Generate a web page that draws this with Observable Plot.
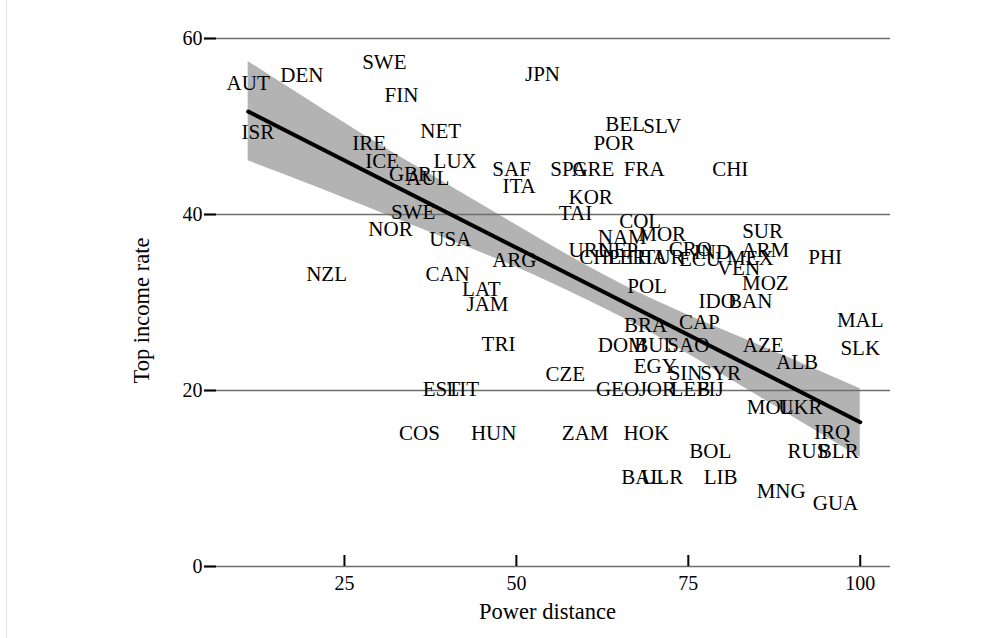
<!DOCTYPE html>
<html><head><meta charset="utf-8">
<script src="https://cdn.jsdelivr.net/npm/d3@7"></script>
<script src="https://cdn.jsdelivr.net/npm/@observablehq/plot@0.6"></script>
<style>
body{margin:0;background:#fff}
#chart{position:relative}
#chart::before{content:"";position:absolute;left:6px;top:0;width:1px;height:638px;background:#e2e2e2}
</style>
</head><body><div id="chart"></div>
<script>
const codes = ["AUT","DEN","SWE","FIN","ISR","NET","IRE","ICE","GBR","AUL","LUX","SWE","NOR","USA","NZL","CAN","LAT","JAM","ARG","TRI","EST","LIT","COS","HUN","SAF","ITA","JPN","SPA","GRE","FRA","BEL","SLV","POR","KOR","TAI","CHI","COL","NAM","MOR","URU","NEP","CHL","PER","THA","TUR","CRO","IND","ECU","MEX","ARM","SUR","VEN","MOZ","PHI","POL","IDO","BAN","CAP","BRA","DOM","BUL","SAO","AZE","MAL","SLK","ALB","EGY","SIN","SYR","CZE","GEO","JOR","LEB","FIJ","MOL","UKR","IRQ","RUS","BLR","ZAM","HOK","BOL","BAL","ULR","LIB","MNG","GUA"];
const powerDistance = [11,18.8,30.8,33.3,12.4,39,28.6,30.5,34.6,37.1,41.1,35,31.7,40.4,22.4,40,44.9,45.8,49.7,47.4,39.1,42.2,35.9,46.7,49.3,50.4,53.8,57.6,61.2,68.6,65.8,71.2,64.2,60.8,58.6,81.1,68,65.4,71.2,60.8,64.8,62.2,66.1,68.8,71.4,75.3,78.5,76.7,84,86.2,85.8,82.3,86.2,94.9,69,79.2,84,76.6,68.8,65.4,70.2,75,85.9,100,100,90.8,70.2,74.6,79.7,57.1,64.7,70.5,75.3,78.2,86.9,91.3,95.9,92.4,96.8,60,68.9,78.2,68.3,71.2,79.7,88.5,96.4];
const topRate = [54.9,55.8,57.3,53.6,49.4,49.5,48.1,46.1,44.6,44.1,46,40.2,38.3,37.2,33.2,33.2,31.5,29.8,34.8,25.3,20.1,20.1,15.1,15.1,45.1,43.2,55.9,45.1,45.1,45.1,50.2,50,48.1,42,40.1,45.1,39.2,37.4,37.7,35.9,35.9,35.1,35.1,35.1,35.1,36.1,35.7,34.9,35,35.9,38.1,33.9,32.2,35.1,31.8,30.1,30.1,27.7,27.4,25.1,25.1,25.1,25.1,28,24.8,23.2,22.7,22,22,21.8,20.1,20.1,20.1,20.1,18.1,18.1,15.2,13.1,13.1,15.1,15.1,13.1,10.1,10.1,10.1,8.6,7.2];

// fitted line and its confidence band
const fitX = [11, 100];
const fitY = [51.7, 16.4];
const bandX = [11, 20, 30, 40, 50, 60, 70, 80, 90, 100];
const bandLow = [46.1, 43.4, 40.3, 37.2, 34.0, 30.4, 26.4, 21.8, 17.1, 12.4];
const bandHigh = [57.4, 52.9, 48.0, 43.4, 38.8, 34.3, 30.3, 26.9, 23.6, 20.2];

const xTicks = [25, 50, 75, 100];
const yTicks = [0, 20, 40, 60];
const xTitle = "Power distance";
const yTitle = "Top income rate";

const data = codes.map((c, i) => ({code: c, pd: powerDistance[i], rate: topRate[i]}));
const fit = fitX.map((x, i) => ({x, y: fitY[i]}));
const band = bandX.map((x, i) => ({x, lo: bandLow[i], hi: bandHigh[i]}));
const font = "'Liberation Serif', 'DejaVu Serif', serif";

const chart = Plot.plot({
  width: 1006, height: 638,
  marginLeft: 204, marginRight: 116, marginTop: 38, marginBottom: 72,
  style: {fontFamily: font, fontSize: "20px", background: "white", color: "black"},
  x: {domain: [4.65, 104.4], label: null},
  y: {domain: [0, 60], label: null},
  marks: [
    Plot.areaY(band, {x: "x", y1: "lo", y2: "hi", fill: "#b3b3b3", curve: "natural"}),
    Plot.ruleY(yTicks, {stroke: "#6e6e6e", strokeWidth: 1.6}),
    Plot.line(fit, {x: "x", y: "y", stroke: "black", strokeWidth: 4}),
    Plot.axisY({ticks: yTicks, tickSize: 12, dx: 12, tickPadding: 2, stroke: "black", strokeWidth: 2, fontSize: 20, label: null}),
    Plot.axisX({ticks: xTicks, tickSize: 11, dy: -11, tickPadding: 9, stroke: "black", strokeWidth: 2, fontSize: 20, label: null}),
    Plot.text(data, {x: "pd", y: "rate", text: "code", fontSize: 21, fill: "black"}),
    Plot.text([xTitle], {frameAnchor: "bottom", textAnchor: "middle", lineAnchor: "middle", dy: 45, fontSize: 22.5, fill: "black"}),
    Plot.text([yTitle], {frameAnchor: "left", textAnchor: "middle", lineAnchor: "middle", rotate: -90, dx: -63, dy: 8, fontSize: 22.5, fill: "black"})
  ]
});
document.getElementById("chart").appendChild(chart);
</script>
</body></html>
